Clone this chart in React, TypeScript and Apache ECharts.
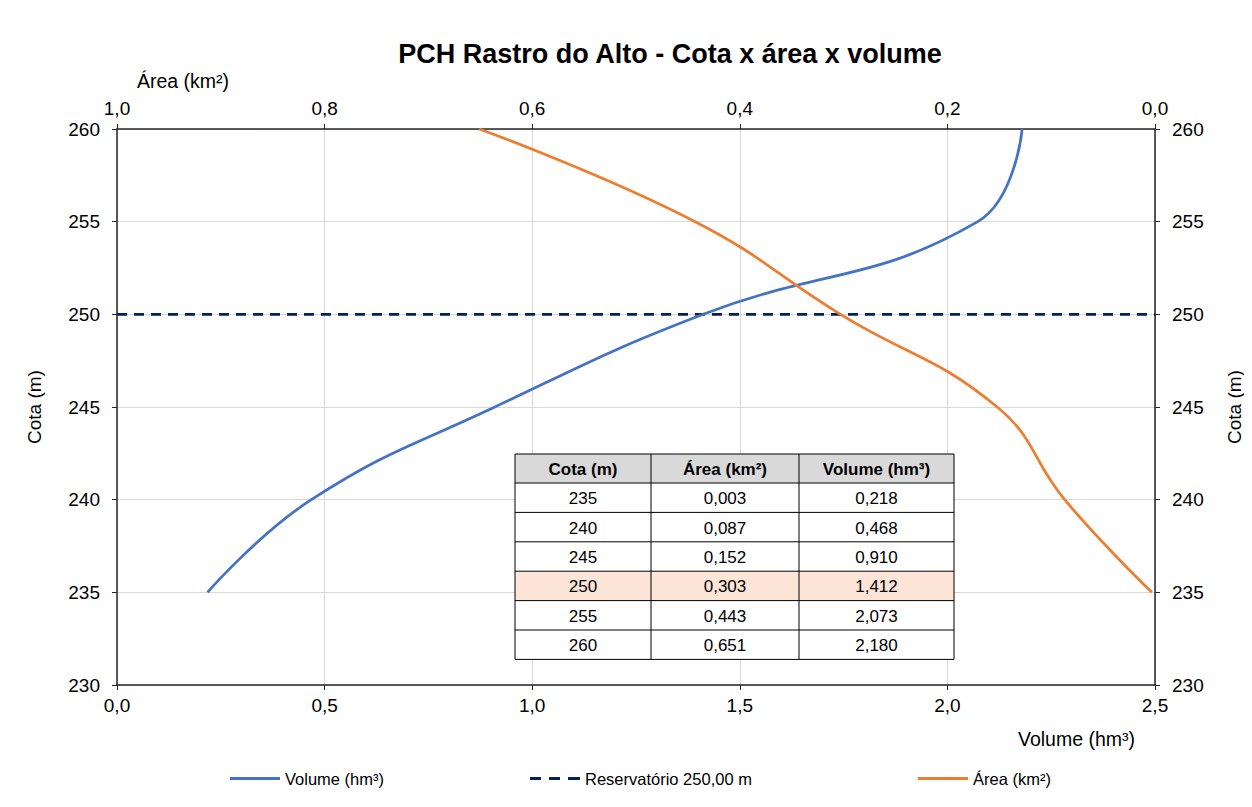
import React, { useEffect, useRef } from "react";
import * as echarts from "echarts";

const cota = [235, 240, 245, 250, 255, 260];
const area = [0.003, 0.087, 0.152, 0.303, 0.443, 0.651];
const volume = [0.218, 0.468, 0.91, 1.412, 2.073, 2.18];
const reservoirLevel = 250;
const volumeRange = [0, 2.5];
const tableHeaders = ["Cota (m)", "Área (km²)", "Volume (hm³)"];
const legendNames = ["Volume (hm³)", "Reservatório 250,00 m", "Área (km²)"];

const FONT = "Liberation Sans, Arial, sans-serif";
const fmt1 = (v: number) => v.toFixed(1).replace(".", ",");
const fmt3 = (v: number) => v.toFixed(3).replace(".", ",");

const SOLID_ICON = "path://M0,0h50v3h-50z";
const DASH_ICON = "path://M0,0h11v3h-11z M19,0h11v3h-11z M38,0h12v3h-12z";

export default function App() {
  const ref = useRef<HTMLDivElement>(null);
  useEffect(() => {
    if (!ref.current) return;
    const chart = echarts.init(ref.current, null, { renderer: "svg" });

    const colX = [507, 643, 791, 946];
    const tTop = 446;
    const headH = 29;
    const rowH = 29.4;
    const rows = cota.map((c, i) => [String(c), fmt3(area[i]), fmt3(volume[i])]);
    const tableEls: any[] = [];
    const rowTops = [tTop, ...rows.map((_, i) => tTop + headH + i * rowH)];
    const tableBottom = tTop + headH + rows.length * rowH;
    const Z = 100;
    tableEls.push({
      type: "rect", z: Z,
      shape: { x: colX[0], y: tTop, width: colX[3] - colX[0], height: tableBottom - tTop },
      style: { fill: "#ffffff" },
    });
    tableEls.push({
      type: "rect", z: Z + 1,
      shape: { x: colX[0], y: tTop, width: colX[3] - colX[0], height: headH },
      style: { fill: "#d9d9d9" },
    });
    rows.forEach((r, i) => {
      if (cota[i] === reservoirLevel) {
        tableEls.push({
          type: "rect", z: Z + 1,
          shape: { x: colX[0], y: rowTops[i + 1], width: colX[3] - colX[0], height: rowH },
          style: { fill: "#fce4d6" },
        });
      }
    });
    [...rowTops, tableBottom].forEach((y) => {
      tableEls.push({
        type: "line", z: Z + 2,
        shape: { x1: colX[0], y1: y, x2: colX[3], y2: y },
        style: { stroke: "#000", lineWidth: 1 },
      });
    });
    colX.forEach((x) => {
      tableEls.push({
        type: "line", z: Z + 2,
        shape: { x1: x, y1: tTop, x2: x, y2: tableBottom },
        style: { stroke: "#000", lineWidth: 1 },
      });
    });
    tableHeaders.forEach((h, j) => {
      tableEls.push({
        type: "text", z: Z + 3,
        x: (colX[j] + colX[j + 1]) / 2,
        y: tTop + headH / 2 + 1,
        style: {
          text: h, fill: "#000", font: `bold 17px ${FONT}`,
          align: "center", verticalAlign: "middle",
        },
      });
    });
    rows.forEach((r, i) => {
      r.forEach((t, j) => {
        tableEls.push({
          type: "text", z: Z + 3,
          x: (colX[j] + colX[j + 1]) / 2,
          y: rowTops[i + 1] + rowH / 2 + 1,
          style: {
            text: t, fill: "#000", font: `17px ${FONT}`,
            align: "center", verticalAlign: "middle",
          },
        });
      });
    });

    const axisLine = { show: true, lineStyle: { color: "#262626", width: 1.5 } };
    const axisTick = { show: true, length: 5, lineStyle: { color: "#262626", width: 1 } };
    const labelStyle = { color: "#000", fontSize: 19, fontFamily: FONT };
    const nameStyle = { color: "#000", fontSize: 19, fontFamily: FONT };

    const legendLefts = [217, 517, 905];
    const legendIcons = [SOLID_ICON, DASH_ICON, SOLID_ICON];
    const legends = legendNames.map((n, i) => ({
      left: legendLefts[i],
      top: 757,
      itemWidth: 50,
      itemHeight: 3,
      textStyle: { color: "#000", fontSize: 16.5, fontFamily: FONT },
      data: [{ name: n, icon: legendIcons[i] }],
    }));

    chart.setOption({
      animation: false,
      backgroundColor: "#fff",
      title: {
        text: "PCH Rastro do Alto - Cota x área x volume",
        left: 657,
        top: 27,
        textAlign: "center",
        textStyle: { fontSize: 27, fontWeight: "bold", color: "#000", fontFamily: FONT },
      },
      grid: { left: 109, right: 96, top: 121, bottom: 122, containLabel: false },
      legend: legends,
      xAxis: [
        {
          type: "value",
          position: "bottom",
          min: volumeRange[0],
          max: volumeRange[1],
          interval: 0.5,
          axisLine,
          axisTick,
          axisLabel: { ...labelStyle, margin: 11, formatter: (v: number) => fmt1(v) },
          splitLine: { show: true, lineStyle: { color: "#d9d9d9", width: 1 } },
        },
        {
          type: "value",
          position: "top",
          min: 0,
          max: 1,
          interval: 0.2,
          inverse: true,
          axisLine,
          axisTick,
          axisLabel: { ...labelStyle, margin: 11, formatter: (v: number) => fmt1(v) },
          splitLine: { show: false },
        },
      ],
      yAxis: [
        {
          type: "value",
          position: "left",
          min: 230,
          max: 260,
          interval: 5,
          name: "Cota (m)",
          nameLocation: "middle",
          nameGap: 73,
          nameTextStyle: nameStyle,
          axisLine,
          axisTick,
          axisLabel: { ...labelStyle, margin: 17 },
          splitLine: { show: true, lineStyle: { color: "#d9d9d9", width: 1 } },
        },
        {
          type: "value",
          position: "right",
          min: 230,
          max: 260,
          interval: 5,
          name: "Cota (m)",
          nameLocation: "middle",
          nameGap: 70,
          nameTextStyle: nameStyle,
          axisLine,
          axisTick,
          axisLabel: { ...labelStyle, margin: 17 },
          splitLine: { show: false },
        },
      ],
      graphic: [
        {
          type: "text",
          left: 129,
          top: 63,
          style: { text: "Área (km²)", fill: "#000", font: `19.5px ${FONT}` },
        },
        {
          type: "text",
          left: 1010,
          top: 721,
          style: { text: "Volume (hm³)", fill: "#000", font: `19.5px ${FONT}` },
        },
        ...tableEls,
      ],
      series: [
        {
          name: legendNames[0],
          type: "line",
          xAxisIndex: 0,
          yAxisIndex: 0,
          smooth: 0.45,
          symbol: "none",
          lineStyle: { color: "#4472c4", width: 2.75 },
          itemStyle: { color: "#4472c4" },
          data: volume.map((v, i) => [v, cota[i]]),
          z: 3,
        },
        {
          name: legendNames[1],
          type: "line",
          xAxisIndex: 0,
          yAxisIndex: 0,
          symbol: "none",
          lineStyle: { color: "#002060", width: 2.75, type: [10, 7] },
          itemStyle: { color: "#002060" },
          data: volumeRange.map((v) => [v, reservoirLevel]),
          z: 2,
        },
        {
          name: legendNames[2],
          type: "line",
          xAxisIndex: 1,
          yAxisIndex: 0,
          smooth: 0.45,
          symbol: "none",
          lineStyle: { color: "#ed7d31", width: 2.75 },
          itemStyle: { color: "#ed7d31" },
          data: area.map((v, i) => [v, cota[i]]),
          z: 3,
        },
      ],
    });
    return () => chart.dispose();
  }, []);

  return (
    <div
      style={{
        marginTop: -1,
        marginLeft: -1,
        width: 1260,
        height: 810,
        borderTop: "1px solid #a6a6a6",
        borderLeft: "1px solid #404040",
        background: "#fff",
      }}
    >
      <div ref={ref} style={{ width: 1244, height: 799 }} />
    </div>
  );
}
